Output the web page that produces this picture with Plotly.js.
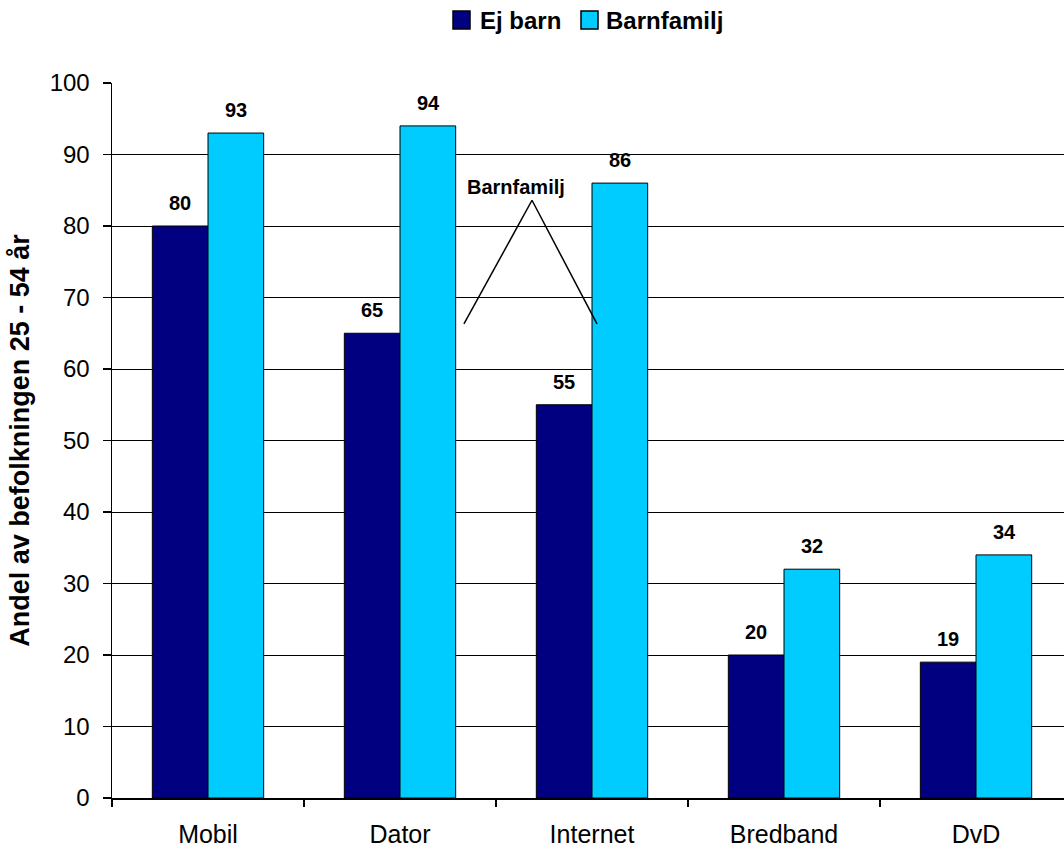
<!DOCTYPE html>
<html>
<head>
<meta charset="utf-8">
<script src="https://cdn.plot.ly/plotly-3.0.1.min.js"></script>
<style>
html,body{margin:0;padding:0;background:#fff;overflow:hidden;}
#chart{width:1064px;height:850px;}
</style>
</head>
<body>
<div id="chart"></div>
<script>
const categories = ["Mobil", "Dator", "Internet", "Bredband", "DvD"];
const ejBarn = [80, 65, 55, 20, 19];
const barnfamilj = [93, 94, 86, 32, 34];
const seriesNames = ["Ej barn", "Barnfamilj"];
const seriesColors = ["#000080", "#00CCFF"];
const yTitle = "Andel av befolkningen 25 - 54 år";
const calloutText = "Barnfamilj";

const FONT = "Liberation Sans, Arial, sans-serif";

// pixel helpers for the plot area (left 112, width 952, top 83, height 715)
const px = v => (v - 112) / 952;
const py = v => (798 - v) / 715;

const traces = [
  {type: "bar", name: seriesNames[0], x: categories, y: ejBarn, showlegend: false,
   marker: {color: seriesColors[0], line: {color: "#000000", width: 1}}},
  {type: "bar", name: seriesNames[1], x: categories, y: barnfamilj, showlegend: false,
   marker: {color: seriesColors[1], line: {color: "#000000", width: 1}}}
];

const annotations = [];
[ejBarn, barnfamilj].forEach((arr, si) => {
  arr.forEach((v, i) => {
    annotations.push({
      x: categories[i], y: v, xref: "x", yref: "y",
      text: String(v), showarrow: false,
      xshift: si === 0 ? -28 : 28, yshift: 10, yanchor: "bottom",
      font: {family: FONT, size: 20, color: "#000", weight: "bold"}
    });
  });
});
annotations.push({
  x: 1.604, y: 85.5, xref: "x", yref: "y", text: calloutText, showarrow: false,
  font: {family: FONT, size: 20, color: "#000", weight: "bold"}
});

// manual legend
const legendX = [[453, 478], [581, 604]];
seriesNames.forEach((n, i) => {
  annotations.push({
    x: px(legendX[i][1]), y: py(20), xref: "paper", yref: "paper",
    xanchor: "left", yanchor: "middle", text: n, showarrow: false,
    font: {family: FONT, size: 24, color: "#000", weight: "bold"}
  });
});

const shapes = [
  {type: "line", xref: "x", yref: "y", x0: 1.6875, y0: 83.6, x1: 1.333, y1: 66.3, line: {color: "#000", width: 1.5}},
  {type: "line", xref: "x", yref: "y", x0: 1.6875, y0: 83.6, x1: 2.026, y1: 66.3, line: {color: "#000", width: 1.5}}
];
seriesNames.forEach((n, i) => {
  shapes.push({type: "rect", xref: "paper", yref: "paper",
    x0: px(legendX[i][0]), x1: px(legendX[i][0] + 17), y0: py(29), y1: py(11),
    fillcolor: seriesColors[i], line: {color: "#000", width: 1.5}});
});

const layout = {
  width: 1064, height: 850,
  margin: {l: 112, r: 0, t: 83, b: 52, autoexpand: false},
  paper_bgcolor: "#fff", plot_bgcolor: "#fff",
  font: {family: FONT, color: "#000"},
  barmode: "group", bargap: 0.42, bargroupgap: 0,
  showlegend: false,
  xaxis: {type: "category", range: [-0.5, 4.4583], tickson: "boundaries",
          ticks: "outside", ticklen: 7, tickcolor: "#000", tickwidth: 1.5,
          ticklabelstandoff: 13,
          showline: true, linecolor: "#000", linewidth: 1.5, showgrid: false,
          tickfont: {family: FONT, size: 25, color: "#000"}, zeroline: false},
  yaxis: {range: [0, 100], dtick: 10, ticks: "outside", ticklen: 8, tickcolor: "#000", tickwidth: 1.5,
          ticklabelstandoff: 8,
          showline: true, linecolor: "#000", linewidth: 1.5,
          showgrid: true, gridcolor: "#000", gridwidth: 1, zeroline: false,
          tickfont: {family: FONT, size: 24, color: "#000"},
          title: {text: yTitle, standoff: 12, font: {family: FONT, size: 27, color: "#000", weight: "bold"}}},
  annotations: annotations,
  shapes: shapes
};

Plotly.newPlot("chart", traces, layout, {displayModeBar: false, staticPlot: true});
</script>
</body>
</html>
